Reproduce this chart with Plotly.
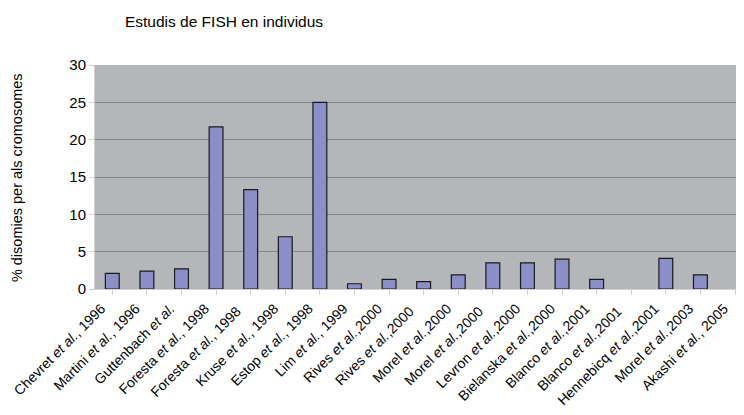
import plotly.graph_objects as go

# studies (x categories) and % disomy values
studies = [
    "Chevret <i>et al.</i>, 1996",
    "Martini <i>et al.</i>, 1996",
    "Guttenbach <i>et al.</i>",
    "Foresta <i>et al.</i>, 1998",
    "Foresta <i>et al.</i>, 1998 ",
    "Kruse <i>et al.</i>, 1998",
    "Estop <i>et al.</i>, 1998",
    "Lim <i>et al.</i>, 1999",
    "Rives <i>et al.</i>,2000",
    "Rives <i>et al.</i>,2000 ",
    "Morel <i>et al.</i>,2000",
    "Morel <i>et al.</i>,2000 ",
    "Levron <i>et al.</i>,2000",
    "Bielanska <i>et al.</i>,2000",
    "Blanco <i>et al.</i>,2001",
    "Blanco <i>et al.</i>,2001 ",
    "Hennebicq <i>et al.</i>,2001",
    "Morel <i>et al.</i>,2003",
    "Akashi <i>et al.</i>, 2005",
]
disomies = [2.1, 2.4, 2.7, 21.7, 13.3, 7.0, 25.0, 0.7, 1.3, 1.0, 1.9, 3.5,
            3.5, 4.0, 1.3, None, 4.1, 1.9, None]

ytick_vals = [0, 5, 10, 15, 20, 25, 30]

bars = go.Bar(
    x=list(range(len(studies))),
    y=disomies,
    marker=dict(color="#8c8fc7", line=dict(color="#1a1a1a", width=1.2)),
    width=0.4,
)

# the page adds an 8px body margin, so everything is placed 8px up/left
fig = go.Figure(data=[bars])
fig.update_layout(
    width=744, height=415,
    margin=dict(l=87, r=8, t=57, b=134),
    paper_bgcolor="white",
    plot_bgcolor="#b5b6ba",
    showlegend=False,
    font=dict(family="Liberation Sans, Arial, sans-serif", color="black"),
    title=dict(text="Estudis de FISH en individus", x=216 / 744, xanchor="center",
               y=1 - 14 / 415, yanchor="middle", font=dict(size=15.5)),
)
fig.add_annotation(
    text="% disomies per als cromosomes", textangle=-90,
    xref="paper", yref="paper", x=(9 - 87) / 649, y=0.495,
    xanchor="center", yanchor="middle", showarrow=False,
    font=dict(size=14.5),
)
fig.update_xaxes(
    tickmode="array",
    tickvals=list(range(len(studies))),
    ticktext=studies,
    tickangle=-45,
    tickfont=dict(size=14),
    ticklabelshift=-11,
    automargin=False,
    range=[-0.5, 18.26],
    showgrid=False,
    showline=True, linecolor="#d0d0d0", linewidth=1,
    ticks="outside", tickson="boundaries", ticklen=5, tickcolor="#d0d0d0",
    zeroline=False,
)
fig.update_yaxes(
    range=[0, 30],
    tickvals=ytick_vals,
    tickfont=dict(size=15),
    automargin=False,
    showgrid=True, gridcolor="#858585", gridwidth=1,
    showline=True, linecolor="#d0d0d0", linewidth=1,
    ticks="outside", ticklen=5, tickcolor="#d0d0d0",
    zeroline=False,
)

fig.write_html("out.html")
